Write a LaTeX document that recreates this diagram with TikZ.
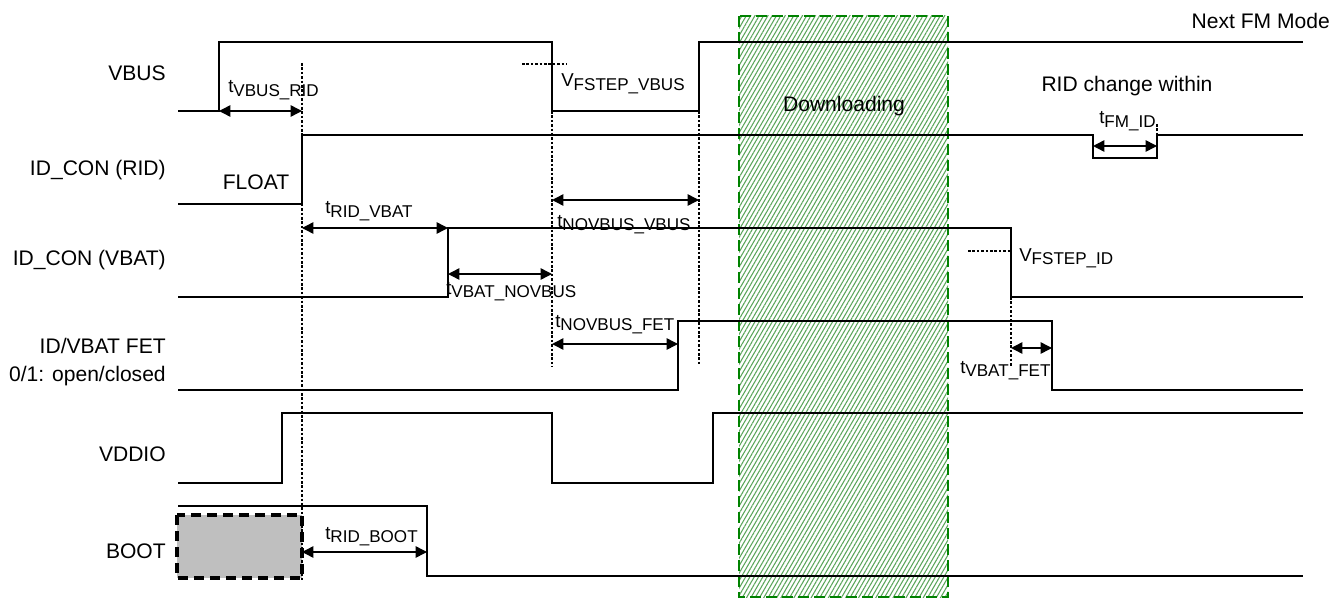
\documentclass[tikz,border=0pt]{standalone}
\usepackage{fontspec}
\setmainfont{Liberation Sans}
\usetikzlibrary{arrows.meta,patterns.meta}
\definecolor{boxgreen}{RGB}{0,130,0}
\definecolor{hatchgreen}{RGB}{90,165,90}
\newcommand{\bigtxt}{\fontsize{15.8}{21}\selectfont}
\newcommand{\midtxt}{\fontsize{14}{16}\selectfont}
\newcommand{\tsub}[2]{#1\raisebox{-2.3pt}{\fontsize{12.8}{14}\selectfont #2}}
\begin{document}
\begin{tikzpicture}[x=0.75pt,y=-0.75pt,
  sigline/.style={line width=1.5pt,line join=miter},
  guide/.style={line width=1.6pt,dash pattern=on 2pt off 1.3pt},
  span/.style={{Triangle[length=8.5pt,width=8.5pt]}-{Triangle[length=8.5pt,width=8.5pt]},line width=1.1pt},
  siglab/.style={anchor=east,align=right,inner sep=0pt,font=\bigtxt},
  tlab/.style={anchor=base west,inner sep=0pt,font=\midtxt}]
\useasboundingbox (0,0) rectangle (1334,599);

% download window
\fill [pattern={Lines[angle=60,distance=2.8pt,line width=0.8pt]},pattern color=hatchgreen] (739,16) rectangle (948,597);
\draw [boxgreen,line width=2.2pt,dash pattern=on 8pt off 4pt] (739,16) rectangle (948,597);
\node (dl) at (844,106) [font=\bigtxt] {Downloading};

% BOOT pre-state box
\draw [line width=2.6pt,dash pattern=on 7.5pt off 4.5pt,fill=black!25] (177,515) rectangle (302,578);

% signal names
\node (lVBUS) at (166,73) [siglab] {VBUS};
\node (lRID) at (166,170) [siglab] {ID\_CON (RID)};
\node (lVBAT) at (166,260) [siglab] {ID\_CON (VBAT)};
\node (lFET) at (166,362) [siglab] {ID/VBAT FET\\0/1: open/closed};
\node (lVDDIO) at (166,454) [siglab] {VDDIO};
\node (lBOOT) at (166,551) [siglab] {BOOT};

% waveforms
\draw [sigline] (178,111) -- (219,111) -- (219,42) -- (552,42) -- (552,111) -- (699,111) -- (699,42) -- (1303,42);
\draw [sigline] (178,204) -- (302,204) -- (302,135) -- (1093,135) -- (1093,158) -- (1157,158) -- (1157,135) -- (1303,135);
\draw [sigline] (178,297) -- (448,297) -- (448,228) -- (1011,228) -- (1011,297) -- (1303,297);
\draw [sigline] (178,390) -- (678,390) -- (678,321) -- (1052,321) -- (1052,390) -- (1303,390);
\draw [sigline] (178,483) -- (282,483) -- (282,413) -- (552,413) -- (552,483) -- (713,483) -- (713,413) -- (1303,413);
\draw [sigline] (178,506) -- (427,506) -- (427,576) -- (1303,576);

% dotted markers
\draw [guide] (302,63) -- (302,582);
\draw [guide] (552,111) -- (552,367);
\draw [guide] (699,111) -- (699,365);
\draw [guide] (1011,297) -- (1011,367);
\draw [guide] (1157,124) -- (1157,135);
\draw [guide] (522,64) -- (567,64);
\draw [guide] (968,251) -- (1011,251);

% timing spans
\draw [span] (219,111) -- (302,111);
\draw [span] (302,228) -- (448,228);
\draw [span] (448,274) -- (552,274);
\draw [span] (552,200) -- (699,200);
\draw [span] (552,344) -- (678,344);
\draw [span] (1011,348) -- (1052,348);
\draw [span] (302,552) -- (427,552);
\draw [span] (1093,146) -- (1157,146);

% labels
\node (tVR) at (228,93) [tlab] {\tsub{t}{VBUS\_RID}};
\node (tRV) at (325,214) [tlab] {\tsub{t}{RID\_VBAT}};
\node (tNV) at (557,227) [tlab] {\tsub{t}{NOVBUS\_VBUS}};
\node (tVN) at (446,294) [tlab] {\tsub{t}{VBAT\_NOVBUS}};
\node (tNF) at (555,327) [tlab] {\tsub{t}{NOVBUS\_FET}};
\node (tVF) at (960,373) [tlab] {\tsub{t}{VBAT\_FET}};
\node (tRB) at (325,539) [tlab] {\tsub{t}{RID\_BOOT}};
\node (tFM) at (1099,124) [tlab] {\tsub{t}{FM\_ID}};
\node (vFV) at (561,87) [tlab] {\tsub{V}{FSTEP\_VBUS}};
\node (vFI) at (1019,261) [tlab] {\tsub{V}{FSTEP\_ID}};
\node (flt) at (256,182) [font=\bigtxt] {FLOAT};
\node (nfm) at (1330,21) [anchor=east,inner sep=0pt,font=\bigtxt] {Next FM Mode};
\node (rid) at (1127,86) [font=\bigtxt] {RID change within};
\end{tikzpicture}
\end{document}
